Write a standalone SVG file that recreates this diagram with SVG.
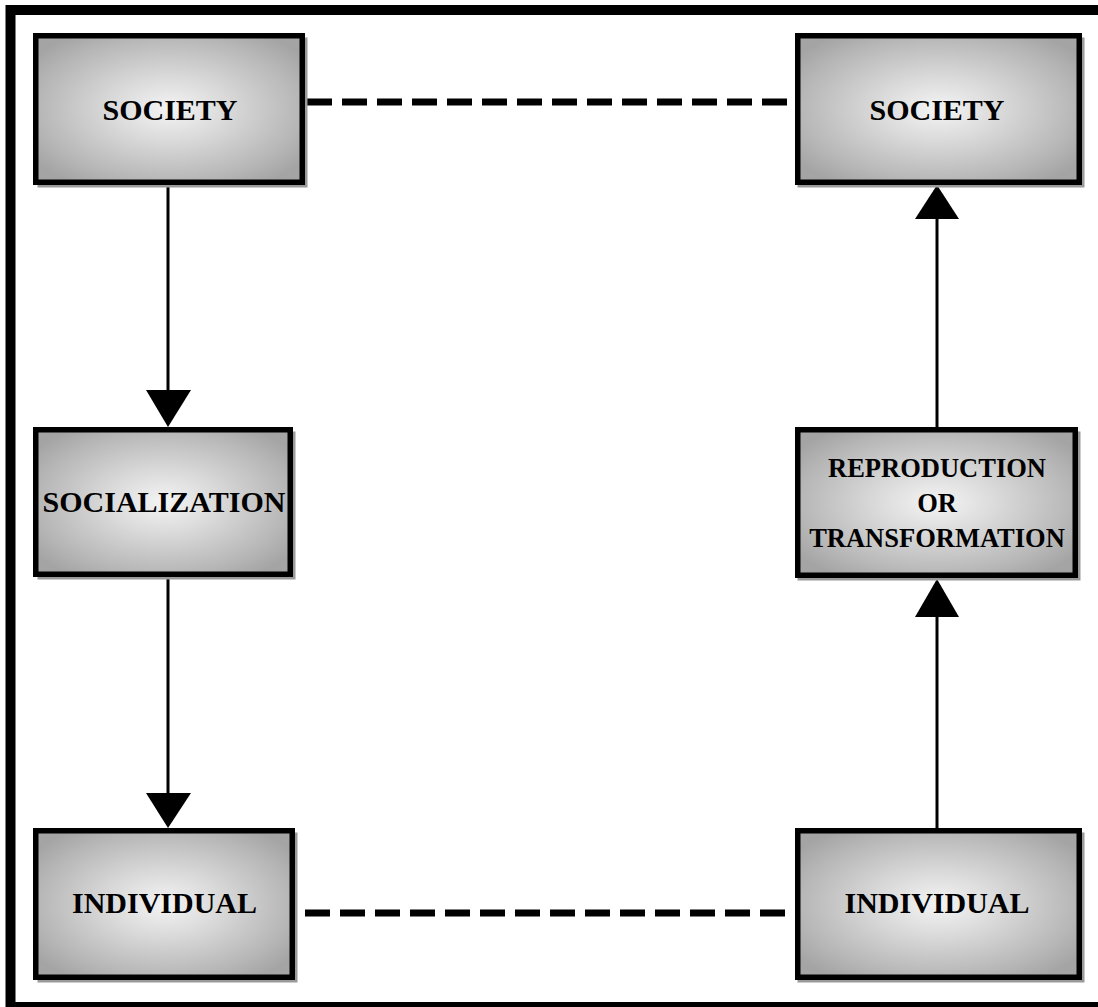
<svg xmlns="http://www.w3.org/2000/svg" width="1098" height="1007" viewBox="0 0 1098 1007">
  <style>
    .box { stroke: #000; stroke-width: 5.5; fill: url(#boxfill); }
    .shadow { fill: #9a9a9a; }
    .lbl { font-family: "Liberation Serif", "Times New Roman", serif; font-weight: bold; font-size: 30px; text-anchor: middle; fill: #000; }
    .lbl3 { font-size: 26.5px; }
    .solid { stroke: #000; stroke-width: 3; fill: none; }
    .dash { stroke: #000; stroke-width: 7; stroke-dasharray: 25 10; fill: none; }
    .head { fill: #000; }
  </style>
  <defs>
    <radialGradient id="boxfill" cx="0.5" cy="0.5" r="0.62" gradientUnits="objectBoundingBox">
      <stop offset="0" stop-color="#f4f4f4"/>
      <stop offset="0.35" stop-color="#dadada"/>
      <stop offset="0.8" stop-color="#b6b6b6"/>
      <stop offset="1" stop-color="#a4a4a4"/>
    </radialGradient>
  </defs>
  <rect x="0" y="0" width="1098" height="1007" fill="#fff"/>
  <rect id="frame" x="10.5" y="10" width="1120" height="997" fill="none" stroke="#000" stroke-width="10"/>

  <g id="connectors">
    <line class="dash" x1="307" y1="102" x2="791" y2="102"/>
    <line class="dash" x1="305" y1="913" x2="788" y2="913"/>
    <line class="solid" x1="168" y1="185" x2="168" y2="392"/>
    <polygon class="head" points="146,390 191,390 168,427"/>
    <line class="solid" x1="168" y1="577" x2="168" y2="795"/>
    <polygon class="head" points="146,793 191,793 168,828"/>
    <line class="solid" x1="937" y1="828" x2="937" y2="615"/>
    <polygon class="head" points="915,617 959,617 937,579"/>
    <line class="solid" x1="937" y1="427" x2="937" y2="217"/>
    <polygon class="head" points="915,219 959,219 937,185"/>
  </g>

  <g id="society-left">
    <rect class="shadow" x="37.5" y="37.5" width="270" height="150"/>
    <rect class="box" x="35.75" y="35.75" width="266.5" height="146.5"/>
    <text class="lbl" x="170" y="120">SOCIETY</text>
  </g>
  <g id="society-right">
    <rect class="shadow" x="797.5" y="37.5" width="287" height="150"/>
    <rect class="box" x="797.75" y="35.75" width="281.5" height="146.5"/>
    <text class="lbl" x="937" y="120">SOCIETY</text>
  </g>
  <g id="socialization">
    <rect class="shadow" x="37.5" y="431.5" width="258" height="148"/>
    <rect class="box" x="35.75" y="429.75" width="254.5" height="144.5"/>
    <text class="lbl" x="164" y="512">SOCIALIZATION</text>
  </g>
  <g id="reproduction">
    <rect class="shadow" x="797.5" y="431.5" width="283" height="149"/>
    <rect class="box" x="797.75" y="429.75" width="277.5" height="145.5"/>
    <text class="lbl lbl3" x="937" y="477">REPRODUCTION</text>
    <text class="lbl lbl3" x="937" y="512">OR</text>
    <text class="lbl lbl3" x="937" y="547">TRANSFORMATION</text>
  </g>
  <g id="individual-left">
    <rect class="shadow" x="37.5" y="832.5" width="260" height="150"/>
    <rect class="box" x="35.75" y="830.75" width="256.5" height="146.5"/>
    <text class="lbl" x="164.5" y="913">INDIVIDUAL</text>
  </g>
  <g id="individual-right">
    <rect class="shadow" x="797.5" y="832.5" width="287" height="150"/>
    <rect class="box" x="797.75" y="830.75" width="281.5" height="146.5"/>
    <text class="lbl" x="937" y="913">INDIVIDUAL</text>
  </g>
</svg>
